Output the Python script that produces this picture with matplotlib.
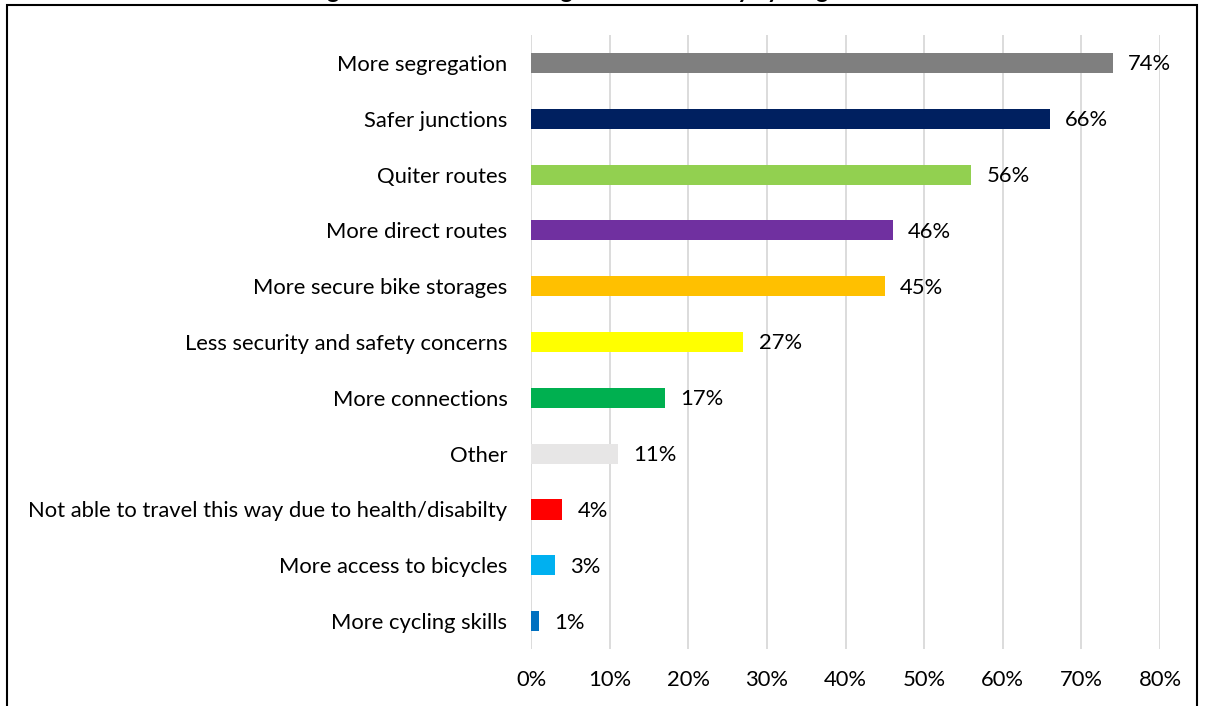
import matplotlib.pyplot as plt
from matplotlib.patches import Rectangle

plt.rcParams['font.family'] = ['Lato', 'DejaVu Sans']

# Respuestas (porcentaje) de arriba hacia abajo
categorias = ['More segregation', 'Safer junctions', 'Quiter routes', 'More direct routes',
              'More secure bike storages', 'Less security and safety concerns',
              'More connections', 'Other', 'Not able to travel this way due to health/disabilty',
              'More access to bicycles', 'More cycling skills']
valores = [74, 66, 56, 46, 45, 27, 17, 11, 4, 3, 1]
colores = ['#7F7F7F', '#002060', '#92D050', '#7030A0', '#FFC000', '#FFFF00',
           '#00B050', '#E7E6E6', '#FF0000', '#00B0F0', '#0070C0']
ticks = [0, 10, 20, 30, 40, 50, 60, 70, 80]

fs = 15.8

fig = plt.figure(figsize=(12.05, 7.06), dpi=100)
ax = fig.add_axes([0.4407, 0.0807, 0.522, 0.8697])

pos = list(range(len(categorias)))
ax.barh(pos, valores, height=0.36, color=colores, zorder=3)
for p, v in zip(pos, valores):
    ax.annotate(f'{v}%', (v, p), xytext=(11, -1), textcoords='offset points',
                va='center', ha='left', fontsize=fs)

ax.set_xlim(0, 80)
ax.set_ylim(len(categorias) - 0.5, -0.5)
ax.set_yticks(pos)
ax.set_yticklabels(categorias, fontsize=fs)
ax.set_xticks(ticks)
ax.set_xticklabels([f'{t}%' for t in ticks], fontsize=fs)
ax.tick_params(axis='both', length=0)
ax.tick_params(axis='y', pad=17)
ax.tick_params(axis='x', pad=15)
ax.grid(axis='x', color='#D9D9D9', linewidth=1.3, zorder=0)
for s in ax.spines.values():
    s.set_visible(False)

# Marco del grafico
fig.add_artist(Rectangle((7 / 1205, -0.02), 1190 / 1205, 1.02 - 5 / 706,
                         transform=fig.transFigure, fill=False,
                         edgecolor='black', linewidth=1.5))

# Titulo (queda cortado arriba)
fig.text(0.46, 1 + 2.5 / 706, 'Things that would encourage me to travel by cycling',
         ha='center', va='baseline', fontsize=17, fontweight='bold')

fig.savefig('out.png', dpi=100)
